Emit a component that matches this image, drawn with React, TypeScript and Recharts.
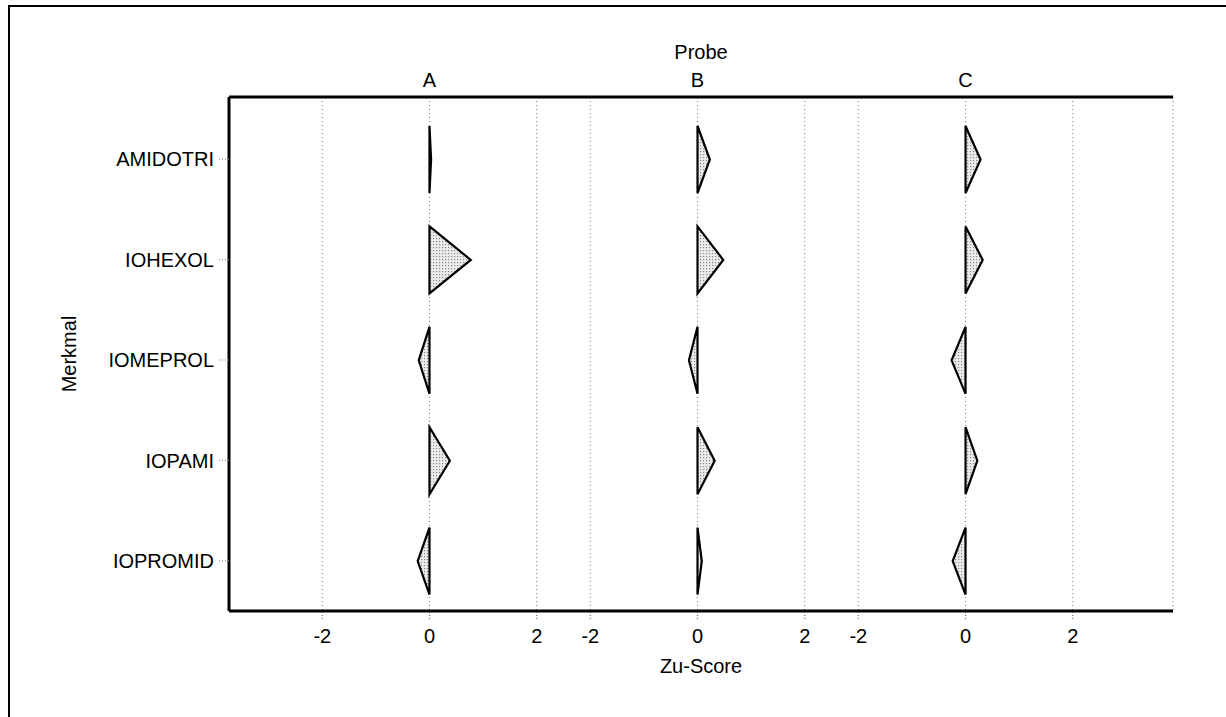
import React from "react";
import { BarChart, Bar, XAxis, YAxis, CartesianGrid } from "recharts";

const categories = ["AMIDOTRI", "IOHEXOL", "IOMEPROL", "IOPAMI", "IOPROMID"];
const probeA = [0.03, 0.77, -0.2, 0.38, -0.22];
const probeB = [0.23, 0.48, -0.16, 0.32, 0.08];
const probeC = [0.28, 0.32, -0.26, 0.22, -0.24];
const probeNames = ["A", "B", "C"];
const probeOffsets = [0, 5, 10];
const bottomTicks = [-2, 0, 2, 3, 5, 7, 8, 10, 12];
const bottomTickLabels = ["-2", "0", "2", "-2", "0", "2", "-2", "0", "2"];
const xDomain = [-3.74, 13.87];

const data = categories.map((c, i) => ({ name: c, a: probeA[i], b: probeB[i], c: probeC[i] }));

const FONT = "'Liberation Sans', Arial, Helvetica, sans-serif";

const Triangle = (props: any) => {
  const { x, y, width, height } = props;
  if (x == null || y == null) return null;
  const d = `M${x},${y} L${x},${y + height} L${x + width},${y + height / 2} Z`;
  return (
    <g>
      <defs>
        <pattern id="stipple" width="3" height="3" patternUnits="userSpaceOnUse">
          <rect width="3" height="3" fill="#ececec" />
          <rect x="1" y="1" width="1.2" height="1.2" fill="#8a8a8a" />
        </pattern>
      </defs>
      <path d={d} fill="url(#stipple)" stroke="#000" strokeWidth={2.2} strokeLinejoin="miter" />
    </g>
  );
};

const axisLine = { stroke: "#000", strokeWidth: 3 };
const tickStyle = { fill: "#000", fontSize: 20, fontFamily: FONT };

export default function App() {
  return (
    <div style={{ position: "absolute", left: 0, top: 0, width: 1226, height: 717, background: "#fff" }}>
      <div
        style={{
          position: "absolute",
          left: 8,
          top: 5,
          width: 1218,
          height: 712,
          borderLeft: "2px solid #000",
          borderTop: "2px solid #000",
          boxSizing: "border-box",
        }}
      />
      <div style={{ position: "absolute", left: 0, top: 0 }}>
        <BarChart
          width={1226}
          height={717}
          data={data}
          layout="vertical"
          margin={{ top: 37, right: 53, bottom: 36, left: 0 }}
        >
          <CartesianGrid
            horizontal={false}
            vertical={true}
            yAxisId="A"
            stroke="#777"
            strokeDasharray="1 3"
          />
          <XAxis
            type="number"
            domain={xDomain}
            ticks={bottomTicks}
            interval={0}
            allowDataOverflow
            tickFormatter={(v: number) => bottomTickLabels[bottomTicks.indexOf(v)] ?? ""}
            tick={tickStyle}
            tickSize={8}
            tickMargin={10}
            tickLine={{ stroke: "#555", strokeDasharray: "1 2" }}
            axisLine={axisLine}
            height={70}
            label={{ value: "Zu-Score", position: "insideBottom", offset: 8, fill: "#000", fontSize: 20, fontFamily: FONT }}
          />
          <XAxis
            xAxisId="top"
            orientation="top"
            type="number"
            domain={xDomain}
            ticks={probeOffsets}
            interval={0}
            allowDataOverflow
            tickFormatter={(v: number) => probeNames[probeOffsets.indexOf(v)] ?? ""}
            tick={tickStyle}
            tickSize={0}
            tickMargin={10}
            tickLine={false}
            axisLine={axisLine}
            height={60}
            label={{ value: "Probe", position: "insideTop", offset: 8, fill: "#000", fontSize: 20, fontFamily: FONT }}
          />
          <YAxis
            yAxisId="A"
            type="category"
            dataKey="name"
            width={229}
            padding={{ top: 12, bottom: 0 }}
            tick={tickStyle}
            tickSize={10}
            tickMargin={5}
            tickLine={{ stroke: "#777", strokeDasharray: "1 2" }}
            axisLine={axisLine}
            label={{
              value: "Merkmal",
              angle: -90,
              position: "insideLeft",
              offset: 69,
              fill: "#000",
              fontSize: 20,
              fontFamily: FONT,
              style: { textAnchor: "middle" },
            }}
          />
          <YAxis yAxisId="B" type="category" dataKey="name" hide padding={{ top: 12, bottom: 0 }} />
          <YAxis yAxisId="C" type="category" dataKey="name" hide padding={{ top: 12, bottom: 0 }} />
          <YAxis
            yAxisId="R"
            orientation="right"
            type="category"
            dataKey="name"
            width={0}
            tick={false}
            tickLine={false}
            axisLine={axisLine}
            padding={{ top: 12, bottom: 0 }}
          />
          <Bar
            yAxisId="A"
            dataKey={(d: any) => [probeOffsets[0], probeOffsets[0] + d.a]}
            barSize={67}
            shape={<Triangle />}
            isAnimationActive={false}
          />
          <Bar
            yAxisId="B"
            dataKey={(d: any) => [probeOffsets[1], probeOffsets[1] + d.b]}
            barSize={67}
            shape={<Triangle />}
            isAnimationActive={false}
          />
          <Bar
            yAxisId="C"
            dataKey={(d: any) => [probeOffsets[2], probeOffsets[2] + d.c]}
            barSize={67}
            shape={<Triangle />}
            isAnimationActive={false}
          />
        </BarChart>
      </div>
    </div>
  );
}
